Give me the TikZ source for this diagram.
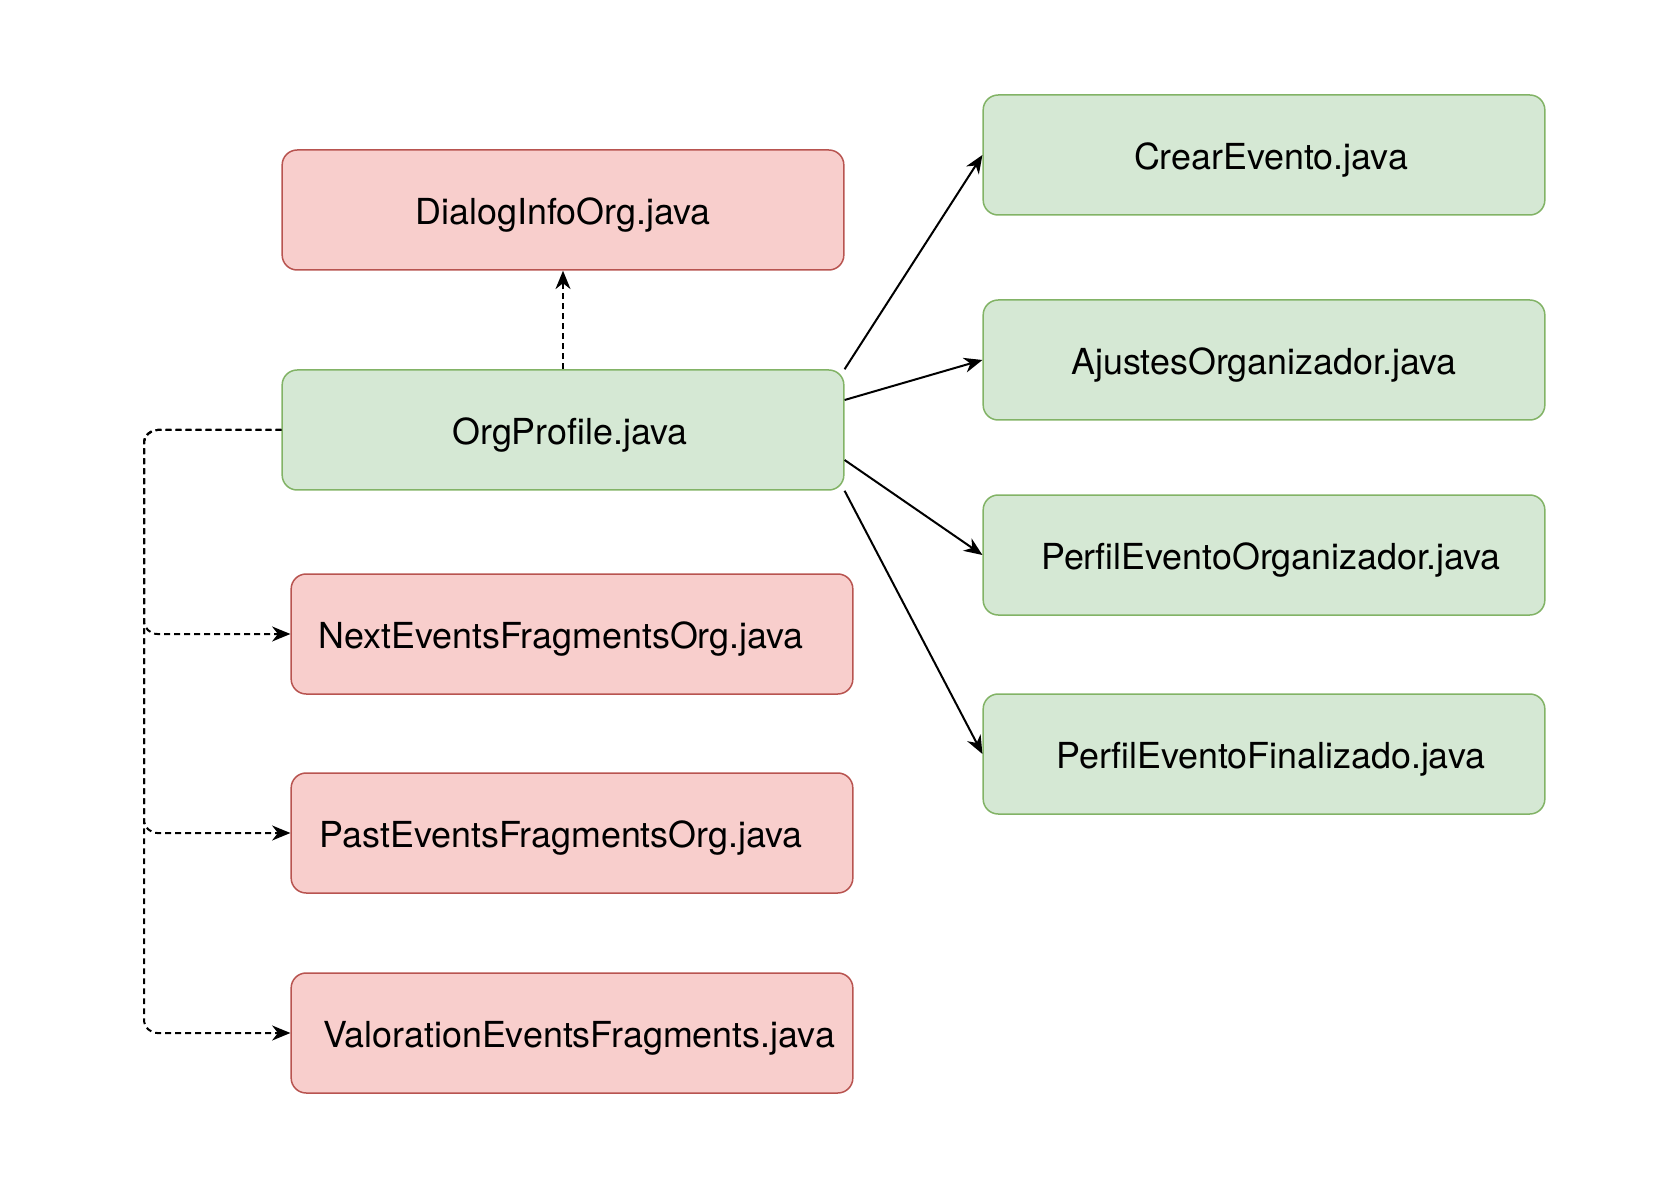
\documentclass[tikz,border=0pt]{standalone}
\usepackage{fontspec}
\setmainfont{TeX Gyre Heros}
\usetikzlibrary{arrows.meta}

\definecolor{redfill}{HTML}{F8CECC}
\definecolor{redline}{HTML}{B85450}
\definecolor{greenfill}{HTML}{D5E8D4}
\definecolor{greenline}{HTML}{82B366}

\tikzset{
    classbox/.style={rectangle, rounded corners=9pt, line width=0.9pt,
        minimum width=337pt, minimum height=72pt, inner sep=0pt,
        text height=19pt, text depth=1.8pt,
        font=\fontsize{21.5}{25}\selectfont},
    redbox/.style={classbox, draw=redline, fill=redfill},
    greenbox/.style={classbox, draw=greenline, fill=greenfill},
    uses/.style={line width=1.2pt, -{Stealth[length=11pt,width=9pt,inset=3.5pt]}},
    opens/.style={uses, dash pattern=on 3.5pt off 2.5pt, rounded corners=8pt}
}

\begin{document}
\begin{tikzpicture}[x=0.6pt, y=-0.6pt]
    \useasboundingbox (0,0) rectangle (1673,1188);
    \node (dialog) at (563,210) [redbox] {DialogInfoOrg.java};
    \node (org) at (563,430) [greenbox] {\kern8.4pt OrgProfile.java};
    \node (next) at (572,634) [redbox] {NextEventsFragmentsOrg.java\kern13pt};
    \node (past) at (572,833) [redbox] {PastEventsFragmentsOrg.java\kern13pt};
    \node (valor) at (572,1033) [redbox] {\kern8.4pt ValorationEventsFragments.java};
    \node (crear) at (1264,155) [greenbox] {\kern8.4pt CrearEvento.java};
    \node (ajustes) at (1264,360) [greenbox] {AjustesOrganizador.java};
    \node (perfilorg) at (1264,555) [greenbox] {\kern8.4pt PerfilEventoOrganizador.java};
    \node (perfilfin) at (1264,754) [greenbox] {\kern8.4pt PerfilEventoFinalizado.java};
    \coordinate (trunk) at (144,430);

    \draw [opens] (org.north) -- (dialog.south);
    \draw [opens] (org.west) -- (trunk) |- (next.west);
    \draw [opens] (org.west) -- (trunk) |- (past.west);
    \draw [opens] (org.west) -- (trunk) |- (valor.west);

    \draw [uses] (org.north east) -- (crear.west);
    \draw [uses] ([yshift=18pt]org.east) -- (ajustes.west);
    \draw [uses] ([yshift=-18pt]org.east) -- (perfilorg.west);
    \draw [uses] (org.south east) -- (perfilfin.west);
\end{tikzpicture}
\end{document}
